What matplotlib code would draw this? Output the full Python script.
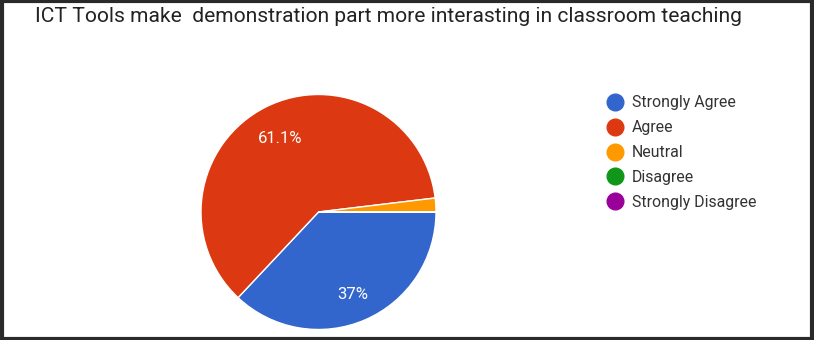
import matplotlib.pyplot as plt
from matplotlib.patches import Rectangle
from matplotlib.lines import Line2D

title = "ICT Tools make  demonstration part more interasting in classroom teaching"
labels = ["Strongly Agree", "Agree", "Neutral", "Disagree", "Strongly Disagree"]
shares = [37.0, 61.1, 1.9, 0.0, 0.0]
colors = ["#3366CC", "#DC3912", "#FF9900", "#109618", "#990099"]

W, H = 814, 340
fig = plt.figure(figsize=(W / 100, H / 100), dpi=100)

# pie centre and radius in pixels
cx, cy, r = 318.5, H - 212, 117.5
ax = fig.add_axes([(cx - r) / W, (cy - r) / H, 2 * r / W, 2 * r / H])


def pct(v):
    if v < 5:
        return ""
    return f"{v:.1f}".rstrip("0").rstrip(".") + "%"


wedges, texts, autotexts = ax.pie(
    shares, colors=colors, startangle=0, counterclock=False,
    autopct=pct, pctdistance=0.73,
    wedgeprops=dict(edgecolor="white", linewidth=1),
    textprops=dict(color="white", fontsize=12, family="Roboto"),
)
for t in autotexts:
    x, y = t.get_position()
    t.set_position((x, y - 0.03))
ax.set_xlim(-1, 1)
ax.set_ylim(-1, 1)
ax.set_aspect("equal")
ax.axis("off")

fig.text(35 / W, 1 - 17 / H, title, fontsize=15.1, family="Roboto",
         color="#222222", va="center", ha="left")

# legend
handles = [Line2D([], [], marker="o", linestyle="none", markersize=12,
                  markerfacecolor=c, markeredgecolor=c) for c in colors]
fig.legend(handles, labels, loc="upper left", bbox_to_anchor=(605.5 / W, 1 - 95.5 / H),
           frameon=False, handletextpad=0.48, labelspacing=0.62,
           prop=dict(family="Roboto", size=11.4), labelcolor="#333333",
           handlelength=1.2, borderaxespad=0, borderpad=0)

# outer frame
fig.patches.append(Rectangle((0.002, 0.004), 0.996, 0.992, transform=fig.transFigure,
                             fill=False, edgecolor="#2a2a2a", linewidth=3))

fig.savefig("out.png", dpi=100)
